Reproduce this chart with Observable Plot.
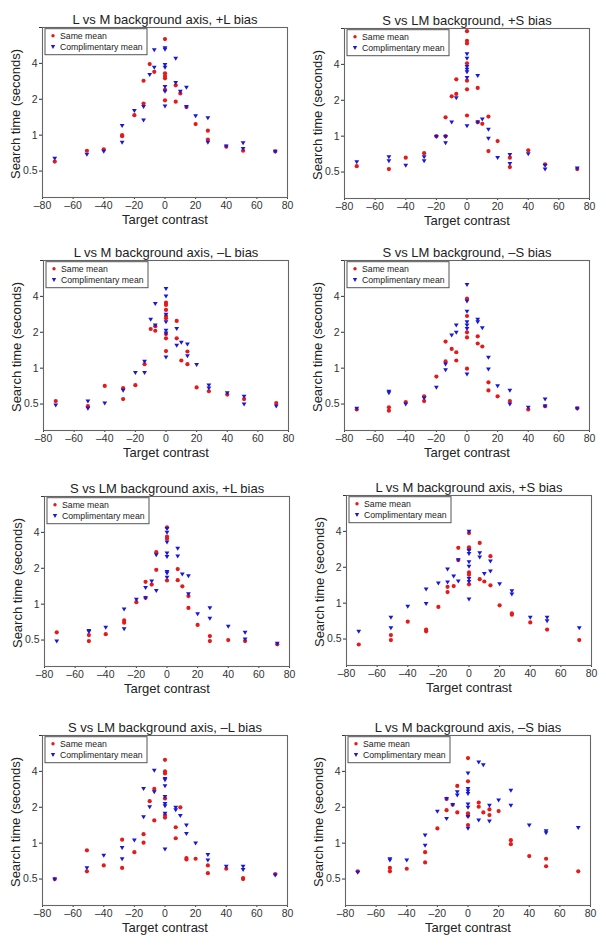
<!DOCTYPE html>
<html><head><meta charset="utf-8">
<script src="https://cdn.jsdelivr.net/npm/d3@7"></script>
<script src="https://cdn.jsdelivr.net/npm/@observablehq/plot@0.6"></script>
<style>
body{margin:0;background:#fff;}
#wrap{position:relative;width:606px;height:945px;overflow:hidden;}
#wrap svg{position:absolute;}
</style></head><body><div id="wrap"></div>
<script>
// ---------- data ----------
const titles = [
  "L vs M background axis, +L bias",
  "S vs LM background, +S bias",
  "L vs M background axis, \u2013L bias",
  "S vs LM background, \u2013S bias",
  "S vs LM background axis, +L bias",
  "L vs M background axis, +S bias",
  "S vs LM background axis, \u2013L bias",
  "L vs M background axis, \u2013S bias"
];
const legendLabels = ["Same mean", "Complimentary mean"];
const xLabel = "Target contrast";
const yLabel = "Search time (seconds)";
const xTicks = [-80, -60, -40, -20, 0, 20, 40, 60, 80];
const yTicks = [0.5, 1, 2, 4, 8];

const p1Same = [[-72,0.60],[-51,0.74],[-40,0.76],[-28,1.0],[-28,0.98],[-20,1.47],[-14,1.84],[-14,2.86],[-10,3.95],[-7,3.4],[0,6.4],[0,3.3],[0,3.13],[0,3.0],[0,2.4],[0,1.96],[7,2.62],[7,1.91],[10,2.24],[14,1.72],[20,1.24],[28,1.09],[28,0.92],[40,0.80],[51,0.74],[72,0.73]];
const p1Comp = [[-72,0.64],[-51,0.69],[-40,0.73],[-28,1.2],[-28,0.87],[-20,1.61],[-14,1.74],[-14,1.34],[-10,3.22],[-7,3.7],[-7,5.2],[0,5.4],[0,5.25],[0,3.9],[0,3.7],[0,2.55],[0,2.33],[0,1.75],[7,4.4],[7,2.76],[10,2.33],[14,2.52],[14,1.74],[20,1.45],[28,1.4],[28,0.87],[40,0.81],[51,0.86],[51,0.77],[72,0.73]];

const p2Same = [[-72,0.56],[-51,0.53],[-40,0.66],[-28,0.72],[-20,1.0],[-14,1.44],[-14,1.0],[-10,2.16],[-7,3.0],[-7,2.26],[0,7.6],[0,6.3],[0,6.0],[0,4.08],[0,2.92],[0,2.47],[0,1.49],[7,2.54],[7,1.31],[10,1.27],[14,1.46],[14,0.75],[20,0.91],[28,0.66],[28,0.55],[40,0.76],[51,0.58],[72,0.53]];
const p2Comp = [[-72,0.61],[-51,0.67],[-51,0.62],[-40,0.57],[-28,0.67],[-28,0.62],[-20,0.99],[-14,0.99],[-14,0.88],[-10,1.31],[-7,2.1],[0,4.9],[0,4.5],[0,3.83],[0,3.64],[0,3.47],[0,3.1],[0,1.22],[7,3.22],[7,1.31],[10,1.39],[14,1.14],[14,0.96],[20,0.66],[28,0.70],[28,0.59],[40,0.71],[51,0.57],[51,0.53],[72,0.54]];

const p3Same = [[-72,0.53],[-51,0.48],[-40,0.71],[-28,0.68],[-28,0.55],[-20,0.72],[-14,1.08],[-10,2.13],[-7,2.06],[-7,2.25],[0,3.54],[0,3.39],[0,3.08],[0,2.74],[0,2.62],[0,1.93],[0,1.78],[0,1.39],[7,2.49],[7,1.78],[10,1.16],[14,1.38],[14,1.08],[20,0.69],[28,0.64],[40,0.60],[51,0.55],[72,0.51]];
const p3Comp = [[-72,0.49],[-51,0.53],[-51,0.46],[-40,0.51],[-28,0.65],[-20,0.92],[-14,1.14],[-14,0.92],[-10,2.57],[-7,3.48],[-7,2.3],[0,4.64],[0,4.02],[0,2.83],[0,2.45],[0,2.08],[0,1.97],[0,1.24],[7,2.15],[7,1.55],[10,1.65],[14,1.59],[14,1.27],[20,1.07],[28,0.72],[28,0.68],[40,0.62],[51,0.58],[51,0.50],[72,0.48]];

const p4Same = [[-72,0.45],[-51,0.47],[-51,0.44],[-40,0.52],[-28,0.58],[-28,0.53],[-20,0.85],[-14,1.67],[-14,1.14],[-10,1.45],[-7,1.36],[-7,1.16],[0,3.83],[0,2.74],[0,2.0],[0,1.81],[0,0.99],[7,1.85],[7,1.61],[10,1.52],[14,0.76],[14,0.65],[20,0.58],[28,0.53],[40,0.45],[51,0.48],[72,0.46]];
const p4Comp = [[-72,0.46],[-51,0.64],[-51,0.62],[-40,0.50],[-28,0.56],[-20,0.69],[-14,1.08],[-14,0.97],[-10,1.89],[-7,2.3],[-7,2.0],[0,5.03],[0,3.66],[0,3.0],[0,2.45],[0,2.3],[0,2.15],[0,0.89],[7,2.57],[7,2.45],[10,2.18],[14,1.23],[14,0.98],[20,0.71],[28,0.65],[28,0.50],[40,0.47],[51,0.55],[51,0.48],[72,0.46]];

const p5Same = [[-72,0.58],[-51,0.55],[-51,0.49],[-40,0.56],[-28,0.73],[-28,0.70],[-20,1.04],[-14,1.54],[-14,1.13],[-10,1.46],[-7,2.73],[-7,1.94],[0,4.4],[0,3.68],[0,3.54],[0,1.58],[7,1.97],[7,1.59],[10,1.41],[14,1.17],[14,0.93],[20,0.67],[28,0.54],[28,0.49],[40,0.50],[51,0.49],[72,0.46]];
const p5Comp = [[-72,0.49],[-51,0.60],[-51,0.59],[-40,0.64],[-28,0.91],[-28,0.62],[-20,1.10],[-14,1.38],[-14,1.13],[-10,1.56],[-7,2.59],[-7,1.3],[0,4.3],[0,4.0],[0,3.32],[0,2.68],[0,2.51],[0,1.88],[0,1.82],[0,1.68],[7,2.94],[7,2.53],[10,1.79],[14,1.73],[14,1.22],[20,0.83],[28,0.93],[28,0.76],[40,0.65],[51,0.58],[51,0.51],[72,0.47]];

const p6Same = [[-72,0.45],[-51,0.54],[-51,0.49],[-40,0.70],[-28,0.60],[-28,0.58],[-20,0.93],[-14,1.37],[-14,1.24],[-10,1.39],[-7,2.91],[-7,2.3],[0,3.87],[0,2.94],[0,2.83],[0,1.81],[0,1.73],[0,1.44],[7,3.2],[7,1.59],[10,1.52],[14,2.48],[14,1.41],[20,0.96],[28,0.82],[28,0.80],[40,0.69],[51,0.60],[72,0.49]];
const p6Comp = [[-72,0.58],[-51,0.76],[-51,0.62],[-40,0.94],[-28,1.31],[-28,0.99],[-20,1.47],[-14,1.93],[-14,1.5],[-10,1.69],[-7,2.31],[-7,1.53],[0,4.0],[0,2.78],[0,2.61],[0,2.22],[0,2.04],[0,1.61],[0,1.52],[0,1.08],[7,2.64],[7,2.43],[10,1.77],[14,2.25],[14,1.86],[20,1.45],[28,1.27],[28,1.19],[40,0.76],[51,0.76],[51,0.71],[72,0.62]];

const p7Same = [[-72,0.50],[-51,0.87],[-51,0.58],[-40,0.65],[-28,1.07],[-28,0.62],[-20,0.84],[-14,1.19],[-14,1.01],[-10,2.25],[-7,2.85],[-7,1.55],[0,5.0],[0,4.0],[0,3.84],[0,2.37],[0,1.72],[0,1.64],[7,1.36],[7,1.10],[10,2.0],[14,0.75],[14,0.73],[20,0.74],[28,0.65],[28,0.56],[40,0.61],[51,0.51],[51,0.50],[72,0.55]];
const p7Comp = [[-72,0.50],[-51,0.62],[-40,0.79],[-28,0.92],[-28,0.74],[-20,1.06],[-14,2.87],[-14,1.66],[-10,2.02],[-7,4.08],[-7,2.69],[0,3.48],[0,3.4],[0,3.02],[0,2.46],[0,2.15],[0,2.06],[0,1.78],[0,0.89],[7,2.0],[7,1.9],[10,1.70],[14,1.42],[14,1.2],[20,1.0],[28,0.80],[28,0.72],[40,0.64],[51,0.64],[51,0.60],[72,0.54]];

const p8Same = [[-72,0.58],[-51,0.62],[-51,0.58],[-40,0.61],[-28,0.84],[-28,0.69],[-20,1.33],[-14,2.35],[-14,1.89],[-10,2.1],[-7,3.02],[-7,1.81],[0,5.17],[0,3.3],[0,1.78],[0,1.70],[0,1.42],[7,2.19],[7,2.02],[10,1.81],[14,1.92],[14,1.72],[20,1.86],[28,1.06],[28,0.98],[40,0.78],[51,0.74],[51,0.64],[72,0.58]];
const p8Comp = [[-72,0.57],[-51,0.74],[-51,0.72],[-40,0.72],[-28,1.17],[-28,0.96],[-20,1.85],[-14,2.37],[-14,1.61],[-10,2.11],[-7,2.69],[-7,2.53],[0,3.87],[0,2.87],[0,2.73],[0,2.6],[0,2.13],[0,2.0],[0,1.67],[0,1.33],[7,4.78],[7,1.56],[10,4.54],[14,2.08],[14,1.53],[20,2.3],[28,2.78],[28,2.08],[40,1.42],[51,1.27],[51,1.22],[72,1.35]];

// ---------- layout / style ----------
const sameSeries = [p1Same, p2Same, p3Same, p4Same, p5Same, p6Same, p7Same, p8Same];
const compSeries = [p1Comp, p2Comp, p3Comp, p4Comp, p5Comp, p6Comp, p7Comp, p8Comp];
const offsets = [[0,0],[302,1],[1,233],[302,233],[2,469],[304,468],[0,708],[303,708]];
const RED = "#e51a1a", BLUE = "#1818d6";
const W = 303, H = 236;
const M = {top: 27, bottom: 39, left: 42, right: 16};
const FONT = "'Liberation Sans', Arial, Helvetica, sans-serif";

const triDown = {
  draw(ctx, size) {
    const r = Math.sqrt(size / Math.PI);
    ctx.moveTo(-1.2 * r, -0.8 * r);
    ctx.lineTo(1.2 * r, -0.8 * r);
    ctx.lineTo(0, 1.2 * r);
    ctx.closePath();
  }
};

const wrap = document.getElementById("wrap");
titles.forEach((title, i) => {
  const svg = Plot.plot({
    width: W, height: H,
    marginTop: M.top, marginBottom: M.bottom, marginLeft: M.left, marginRight: M.right,
    style: {fontFamily: FONT, fontSize: "10.5px", color: "#333", background: "transparent", overflow: "visible"},
    x: {domain: [-80, 80], ticks: xTicks, tickFormat: d => d < 0 ? "\u2013" + (-d) : String(d), label: null, tickSize: 2, tickPadding: 2},
    y: {type: "log", domain: [0.3, 8], ticks: yTicks, tickFormat: d => String(d), label: null, tickSize: 3, tickPadding: 2},
    marks: [
      Plot.frame({stroke: "#666", strokeWidth: 1.1}),
      Plot.dot(sameSeries[i], {x: d => d[0], y: d => d[1], r: 2.1, fill: RED, stroke: "none"}),
      Plot.dot(compSeries[i], {x: d => d[0], y: d => d[1], r: 2.0, fill: BLUE, stroke: "none", symbol: triDown}),
      Plot.text([title], {text: d => d, frameAnchor: "top", dy: -13, fontSize: 13, fill: "#222"}),
      Plot.text([xLabel], {text: d => d, frameAnchor: "bottom", dy: 26, fontSize: 13, fill: "#222"})
    ]
  });
  const s = d3.select(svg);
  // y-axis label
  s.append("text")
    .attr("transform", `translate(15,${(M.top + H - M.bottom) / 2 + 2}) rotate(-90)`)
    .attr("text-anchor", "middle").attr("dy", "0.35em")
    .attr("font-size", "13px").attr("fill", "#222").attr("font-family", FONT)
    .text(yLabel);
  // legend box
  const g = s.append("g").attr("transform", `translate(${M.left + 3},${M.top + 1.7})`);
  g.append("rect").attr("width", 102).attr("height", 26).attr("fill", "white").attr("stroke", "#555").attr("stroke-width", 1);
  g.append("circle").attr("cx", 8).attr("cy", 7).attr("r", 1.7).attr("fill", RED);
  g.append("path").attr("d", "M5.8,16.4L10.2,16.4L8,20.2Z").attr("fill", BLUE);
  legendLabels.forEach((lab, k) => {
    g.append("text").attr("x", 15).attr("y", 7 + k * 11).attr("dy", "0.35em")
      .attr("text-anchor", "start")
      .attr("font-size", "8.7px").attr("fill", "#222").attr("font-family", FONT).text(lab);
  });
  svg.style.left = offsets[i][0] + "px";
  svg.style.top = offsets[i][1] + "px";
  wrap.appendChild(svg);
});
</script>
</body></html>
